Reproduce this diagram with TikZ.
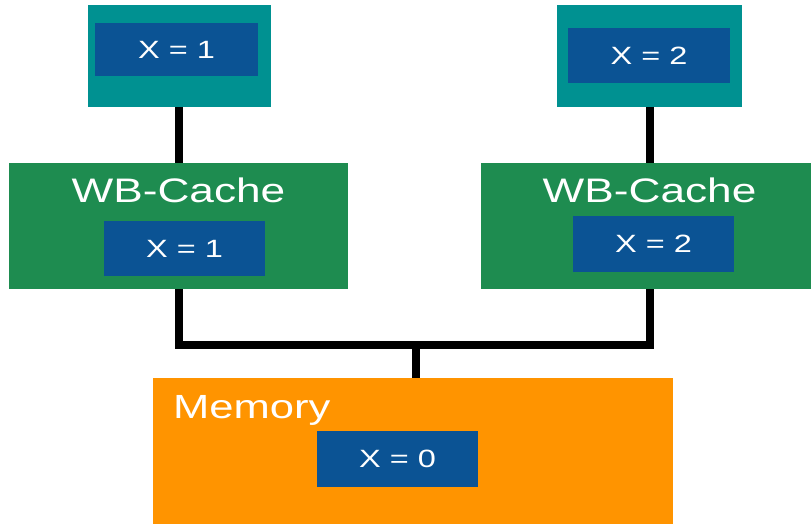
\documentclass[tikz,border=0pt]{standalone}
\usepackage{fontspec}
\setmainfont{Liberation Sans}[FakeStretch=1.3]
\usetikzlibrary{positioning,calc}
\definecolor{prc}{HTML}{009191}
\definecolor{wbc}{HTML}{1E8C50}
\definecolor{mem}{HTML}{FF9400}
\definecolor{val}{HTML}{0B5394}
\tikzset{
  box/.style={draw=none,inner sep=0pt,outer sep=0pt},
  pbox/.style={box,fill=prc,minimum width=183pt,minimum height=102pt},
  cbox/.style={box,fill=wbc,minimum height=126pt},
  mbox/.style={box,fill=mem,minimum width=520pt,minimum height=146pt},
  vbox/.style={box,fill=val,text=white,minimum width=162pt,minimum height=55pt,font=\fontsize{25}{30}\selectfont},
  ttl/.style={inner sep=0pt,text=white,font=\fontsize{34}{40}\selectfont},
  bus/.style={line width=8pt,draw=black},
}
\begin{document}
\begin{tikzpicture}[x=1pt,y=-1pt]
\useasboundingbox (0,0) rectangle (811,524);
% processors
\node[pbox] (cpuA) at (179,56) {};
\node[vbox,minimum width=163pt,minimum height=53pt] (valA) at (176.5,49.5) {X = 1};
\node[pbox,minimum width=185pt] (cpuB) at (649.5,56) {};
\node[vbox] (valB) at (649,55.5) {X = 2};
% write-back caches
\node[cbox,minimum width=339pt] (cacheA) at (178.5,226) {};
\node[ttl,anchor=base] (tA) at (178.5,202) {WB-Cache};
\node[vbox,minimum width=161pt] (cvalA) at (184.5,248.5) {X = 1};
\node[cbox,minimum width=330pt] (cacheB) at (646,226) {};
\node[ttl,anchor=base] (tB) at (649.5,202) {WB-Cache};
\node[vbox,minimum width=161pt,minimum height=56pt] (cvalB) at (653.5,244) {X = 2};
% memory
\node[mbox] (mem) at (413,451) {};
\node[ttl,anchor=base west,font=\fontsize{33.5}{40}\selectfont] (tM) at (173,418) {Memory};
\node[vbox,minimum width=161pt,minimum height=56pt] (mval) at (397.5,459) {X = 0};
% bus
\coordinate (bus) at (416,345);
\draw[bus] (cpuA.south) -- (cpuA.south |- cacheA.north);
\draw[bus] (cpuB.south) -- (cpuB.south |- cacheB.north);
\draw[bus] (cacheA.south -| cpuA) |- (bus) -| (cacheB.south -| cpuB);
\draw[bus] (bus) -- (bus |- mem.north);
\end{tikzpicture}
\end{document}
